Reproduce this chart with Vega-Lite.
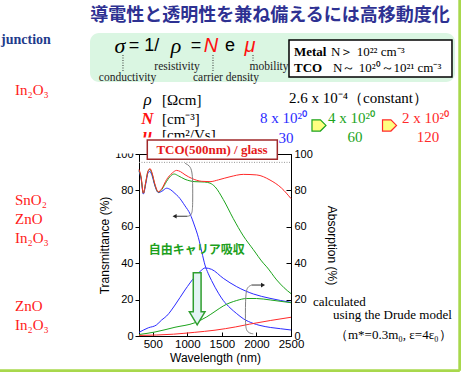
{
"$schema":"https://vega.github.io/schema/vega-lite/v6.json",
"width":152,"height":182,
"autosize":{"type":"none"},
"padding":{"left":139,"top":154,"right":170,"bottom":36},
"background":"white",
"config":{"view":{"stroke":"black","strokeWidth":1},
 "axis":{"domainColor":"black","tickColor":"black","labelColor":"black","titleColor":"black","labelFont":"Liberation Sans","titleFont":"Liberation Sans","labelFontSize":11,"titleFontSize":12,"titleFontWeight":"normal","grid":false}},
"datasets":{
"trans":[
{"x":300,"y":90.5,"N":"8e20"},{"x":330,"y":86.5,"N":"8e20"},{"x":363,"y":78,"N":"8e20"},{"x":400,"y":84,"N":"8e20"},{"x":430,"y":89.5,"N":"8e20"},{"x":459,"y":90.4,"N":"8e20"},{"x":490,"y":88,"N":"8e20"},{"x":530,"y":82.5,"N":"8e20"},{"x":580,"y":78.8,"N":"8e20"},{"x":630,"y":79.5,"N":"8e20"},{"x":700,"y":81.2,"N":"8e20"},{"x":760,"y":80.3,"N":"8e20"},{"x":821,"y":78.3,"N":"8e20"},{"x":869,"y":76.6,"N":"8e20"},{"x":966,"y":71.5,"N":"8e20"},{"x":1040,"y":67,"N":"8e20"},{"x":1100,"y":61,"N":"8e20"},{"x":1160,"y":54,"N":"8e20"},{"x":1210,"y":46,"N":"8e20"},{"x":1255,"y":39,"N":"8e20"},{"x":1300,"y":34.5,"N":"8e20"},{"x":1350,"y":30.5,"N":"8e20"},{"x":1450,"y":23.5,"N":"8e20"},{"x":1520,"y":19.5,"N":"8e20"},{"x":1617,"y":15.5,"N":"8e20"},{"x":1714,"y":12.3,"N":"8e20"},{"x":1810,"y":9.5,"N":"8e20"},{"x":1954,"y":6.9,"N":"8e20"},{"x":2051,"y":5.8,"N":"8e20"},{"x":2200,"y":4.7,"N":"8e20"},{"x":2350,"y":4,"N":"8e20"},{"x":2500,"y":3.3,"N":"8e20"},
{"x":300,"y":91,"N":"4e20"},{"x":330,"y":87,"N":"4e20"},{"x":363,"y":78.5,"N":"4e20"},{"x":400,"y":85,"N":"4e20"},{"x":430,"y":90.5,"N":"4e20"},{"x":459,"y":91.5,"N":"4e20"},{"x":490,"y":89,"N":"4e20"},{"x":530,"y":83,"N":"4e20"},{"x":580,"y":79,"N":"4e20"},{"x":630,"y":80.5,"N":"4e20"},{"x":700,"y":85,"N":"4e20"},{"x":760,"y":88,"N":"4e20"},{"x":811,"y":89,"N":"4e20"},{"x":870,"y":88,"N":"4e20"},{"x":966,"y":86.1,"N":"4e20"},{"x":1110,"y":84.8,"N":"4e20"},{"x":1250,"y":84.6,"N":"4e20"},{"x":1328,"y":84,"N":"4e20"},{"x":1400,"y":82,"N":"4e20"},{"x":1520,"y":75,"N":"4e20"},{"x":1665,"y":64.5,"N":"4e20"},{"x":1810,"y":55,"N":"4e20"},{"x":1954,"y":47.5,"N":"4e20"},{"x":2100,"y":40,"N":"4e20"},{"x":2148,"y":38,"N":"4e20"},{"x":2293,"y":30.8,"N":"4e20"},{"x":2400,"y":26.5,"N":"4e20"},{"x":2500,"y":23.3,"N":"4e20"},
{"x":300,"y":91.5,"N":"2e20"},{"x":330,"y":87.5,"N":"2e20"},{"x":363,"y":78.5,"N":"2e20"},{"x":400,"y":85,"N":"2e20"},{"x":430,"y":90.5,"N":"2e20"},{"x":459,"y":92,"N":"2e20"},{"x":490,"y":89.5,"N":"2e20"},{"x":530,"y":83.5,"N":"2e20"},{"x":580,"y":79.2,"N":"2e20"},{"x":630,"y":81,"N":"2e20"},{"x":700,"y":86,"N":"2e20"},{"x":780,"y":89.5,"N":"2e20"},{"x":845,"y":91,"N":"2e20"},{"x":900,"y":90.3,"N":"2e20"},{"x":966,"y":88.6,"N":"2e20"},{"x":1063,"y":86.6,"N":"2e20"},{"x":1207,"y":85,"N":"2e20"},{"x":1328,"y":84.8,"N":"2e20"},{"x":1450,"y":85.8,"N":"2e20"},{"x":1617,"y":87.5,"N":"2e20"},{"x":1810,"y":88.8,"N":"2e20"},{"x":2004,"y":88.5,"N":"2e20"},{"x":2196,"y":85.7,"N":"2e20"},{"x":2365,"y":81.2,"N":"2e20"},{"x":2500,"y":75.5,"N":"2e20"}
],
"abs":[
{"x":300,"y":2,"N":"8e20"},{"x":435,"y":4.5,"N":"8e20"},{"x":550,"y":6,"N":"8e20"},{"x":628,"y":8.8,"N":"8e20"},{"x":700,"y":11,"N":"8e20"},{"x":821,"y":17,"N":"8e20"},{"x":966,"y":25.3,"N":"8e20"},{"x":1110,"y":32.6,"N":"8e20"},{"x":1200,"y":36,"N":"8e20"},{"x":1255,"y":37.4,"N":"8e20"},{"x":1352,"y":36.6,"N":"8e20"},{"x":1520,"y":31.7,"N":"8e20"},{"x":1714,"y":27.1,"N":"8e20"},{"x":1954,"y":23.1,"N":"8e20"},{"x":2196,"y":20.7,"N":"8e20"},{"x":2500,"y":18.5,"N":"8e20"},
{"x":300,"y":0.8,"N":"4e20"},{"x":532,"y":2.2,"N":"4e20"},{"x":821,"y":4.8,"N":"4e20"},{"x":1110,"y":7.3,"N":"4e20"},{"x":1280,"y":10.5,"N":"4e20"},{"x":1400,"y":13.5,"N":"4e20"},{"x":1520,"y":16.5,"N":"4e20"},{"x":1714,"y":19.5,"N":"4e20"},{"x":1859,"y":20.6,"N":"4e20"},{"x":2000,"y":20.6,"N":"4e20"},{"x":2200,"y":19.8,"N":"4e20"},{"x":2500,"y":18.3,"N":"4e20"},
{"x":300,"y":0.3,"N":"2e20"},{"x":800,"y":1,"N":"2e20"},{"x":1100,"y":2,"N":"2e20"},{"x":1400,"y":3.2,"N":"2e20"},{"x":1700,"y":5,"N":"2e20"},{"x":1900,"y":6.5,"N":"2e20"},{"x":2200,"y":8.5,"N":"2e20"},{"x":2500,"y":10.3,"N":"2e20"}
]
},
"encoding":{
 "x":{"field":"x","type":"quantitative","scale":{"domain":[300,2500],"nice":false,"zero":false},"axis":{"orient":"bottom","values":[500,1000,1500,2000,2500],"format":"d","title":"Wavelength (nm)","tickSize":-4,"labelPadding":6,"titlePadding":3,"labelFlush":false,"labelFontSize":11.5}},
 "y":{"field":"y","type":"quantitative","scale":{"domain":[0,100],"nice":false,"zero":false},"axis":null}
},
"layer":[
{"data":{"values":[{"x":4943,"x2":4943,"y":185,"y2":-19.1},{"x":-1712,"x2":4943,"y":-19.1,"y2":-19.1}]},
 "mark":{"type":"rule","color":"#A8D84C","strokeWidth":3},
 "encoding":{"x2":{"field":"x2"},"y2":{"field":"y2"}}},
{"data":{"values":[{"x":-409,"x2":4874,"y":166.5,"y2":139.6}]},
 "mark":{"type":"rect","fill":"#DAF6E2","cornerRadius":9},
 "encoding":{"x2":{"field":"x2"},"y2":{"field":"y2"}}},
{"data":{"values":[{"x":2196,"y":175.8,"t":"導電性と透明性を兼ね備えるには高移動度化"}]},
 "mark":{"type":"text","font":"Noto Sans CJK JP","fontWeight":"bold","fontSize":18,"color":"#2E3192"},
 "encoding":{"text":{"field":"t"}}},
{"data":{"values":[{"x":-1697,"y":162.7,"t":"junction"}]},
 "mark":{"type":"text","font":"Liberation Serif","fontWeight":"bold","fontSize":14,"color":"#1F3C8C","align":"left"},
 "encoding":{"text":{"field":"t"}}},
{"data":{"values":[{"x":25,"y":159.4,"t":"σ"},{"x":836,"y":159.4,"t":"ρ"}]},
 "mark":{"type":"text","font":"Liberation Serif","fontStyle":"italic","fontSize":22,"color":"black"},
 "encoding":{"text":{"field":"t"}}},
{"data":{"values":[{"x":372,"y":159.4,"t":"= 1/"},{"x":1125,"y":159.4,"t":"="},{"x":1617,"y":159.4,"t":"e"}]},
 "mark":{"type":"text","font":"Liberation Sans","fontSize":18,"color":"black"},
 "encoding":{"text":{"field":"t"}}},
{"data":{"values":[{"x":1342,"y":159.4,"t":"N"},{"x":1907,"y":159.4,"t":"μ"}]},
 "mark":{"type":"text","font":"Liberation Sans","fontStyle":"italic","fontSize":20,"color":"#FF1010"},
 "encoding":{"text":{"field":"t"}}},
{"data":{"values":[{"x":68,"x2":68,"y":154.4,"y2":145.1},{"x":1371,"x2":1371,"y":154.4,"y2":145.1},{"x":1950,"x2":1950,"y":154.4,"y2":150.6}]},
 "mark":{"type":"rule","color":"#333","strokeDash":[1,1.5],"strokeWidth":1},
 "encoding":{"x2":{"field":"x2"},"y2":{"field":"y2"}}},
{"data":{"values":[{"x":134,"y":141.8,"t":"conductivity"},{"x":850,"y":147.8,"t":"resistivity"},{"x":1559,"y":141.8,"t":"carrier density"},{"x":2182,"y":147.8,"t":"mobility"}]},
 "mark":{"type":"text","font":"Liberation Serif","fontSize":11.5,"color":"#222"},
 "encoding":{"text":{"field":"t"}}},
{"data":{"values":[{"x":2471,"x2":4830,"y":162.7,"y2":142.3}]},
 "mark":{"type":"rect","fill":"white","stroke":"black","strokeWidth":1.5},
 "encoding":{"x2":{"field":"x2"},"y2":{"field":"y2"}}},
{"data":{"values":[{"x":2543,"y":156.1,"t":"Metal"},{"x":2543,"y":147.3,"t":"TCO"}]},
 "mark":{"type":"text","font":"Liberation Serif","fontWeight":"bold","fontSize":13,"color":"black","align":"left"},
 "encoding":{"text":{"field":"t"}}},
{"data":{"values":[{"x":3080,"y":156.1,"t":"N＞ 10²² cm⁻³"},{"x":3108,"y":147.3,"t":"N～ 10²⁰～10²¹ cm⁻³"}]},
 "mark":{"type":"text","font":"Liberation Serif","fontSize":13,"color":"black","align":"left"},
 "encoding":{"text":{"field":"t"}}},
{"data":{"values":[{"x":-1495,"y":135.2,"t":"In₂O₃"},{"x":-1495,"y":74.7,"t":"SnO₂"},{"x":-1495,"y":64.3,"t":"ZnO"},{"x":-1495,"y":53.9,"t":"In₂O₃"},{"x":-1495,"y":16.5,"t":"ZnO"},{"x":-1495,"y":6.0,"t":"In₂O₃"}]},
 "mark":{"type":"text","font":"Liberation Serif","fontSize":15,"color":"#FF1A1A","align":"left"},
 "encoding":{"text":{"field":"t"}}},
{"data":{"values":[{"x":423,"y":129.7,"t":"ρ"}]},
 "mark":{"type":"text","font":"Liberation Serif","fontStyle":"italic","fontSize":17,"color":"black"},
 "encoding":{"text":{"field":"t"}}},
{"data":{"values":[{"x":423,"y":119.2,"t":"N"},{"x":423,"y":110.4,"t":"μ"}]},
 "mark":{"type":"text","font":"Liberation Serif","fontStyle":"italic","fontWeight":"bold","fontSize":17,"color":"#FF1010"},
 "encoding":{"text":{"field":"t"}}},
{"data":{"values":[{"x":633,"y":129.7,"t":"[Ωcm]"},{"x":633,"y":119.2,"t":"[cm⁻³]"},{"x":633,"y":110.4,"t":"[cm²/Vs]"}]},
 "mark":{"type":"text","font":"Liberation Serif","fontSize":15,"color":"black","align":"left"},
 "encoding":{"text":{"field":"t"}}},
{"data":{"values":[{"x":2471,"y":130.8,"t":"2.6 x 10⁻⁴（constant）"}]},
 "mark":{"type":"text","font":"Liberation Serif","fontSize":15,"color":"black","align":"left"},
 "encoding":{"text":{"field":"t"}}},
{"data":{"values":[{"x":2051,"y":119.8,"t":"8 x 10²⁰","N":"8e20"},{"x":3036,"y":119.8,"t":"4 x 10²⁰","N":"4e20"},{"x":4107,"y":119.8,"t":"2 x 10²⁰","N":"2e20"}]},
 "mark":{"type":"text","font":"Liberation Serif","fontSize":15,"align":"left"},
 "encoding":{"text":{"field":"t"},"color":{"field":"N","type":"nominal","scale":{"domain":["8e20","4e20","2e20"],"range":["#2B2BFF","#1CA41C","#FF2A2A"]},"legend":null}}},
{"data":{"values":[{"x":2428,"y":108.8,"t":"30","N":"8e20"},{"x":3426,"y":109.4,"t":"60","N":"4e20"},{"x":4483,"y":109.4,"t":"120","N":"2e20"}]},
 "mark":{"type":"text","font":"Liberation Serif","fontSize":15},
 "encoding":{"text":{"field":"t"},"color":{"field":"N","type":"nominal","scale":{"domain":["8e20","4e20","2e20"],"range":["#2B2BFF","#1CA41C","#FF2A2A"]},"legend":null}}},
{"data":{"values":[{"x":2905,"y":115.7,"N":"4e20"},{"x":3926,"y":115.7,"N":"2e20"}]},
 "mark":{"type":"point","shape":"M -1 -0.8 L 0.2 -0.8 L 1 0 L 0.2 0.8 L -1 0.8 Z","filled":true,"fill":"#FFFF80","size":196,"strokeWidth":1.2,"opacity":1},
 "encoding":{"stroke":{"field":"N","type":"nominal","scale":{"domain":["8e20","4e20","2e20"],"range":["#2B2BFF","#1CA41C","#FF2A2A"]},"legend":null}}},
{"data":{"values":[{"x":-337,"x2":2312,"y":109.1,"y2":100.3}]},
 "mark":{"type":"rect","fill":"white"},
 "encoding":{"x2":{"field":"x2"},"y2":{"field":"y2"}}},
{"data":{"values":[{"x":300,"x2":2500,"y":95.4,"y2":95.4}]},
 "mark":{"type":"rule","color":"#999","strokeDash":[1,1.5],"strokeWidth":1},
 "encoding":{"x2":{"field":"x2"},"y2":{"field":"y2"}}},
{"data":{"name":"trans"},
 "mark":{"type":"line","strokeWidth":1,"interpolate":"monotone"},
 "encoding":{
  "y":{"field":"y","type":"quantitative","scale":{"domain":[0,100],"nice":false,"zero":false},"axis":{"orient":"left","values":[0,20,40,60,80,100],"title":"Transmittance (%)","tickSize":4,"labelPadding":2,"titlePadding":3}},
  "color":{"field":"N","type":"nominal","scale":{"domain":["8e20","4e20","2e20"],"range":["#2B2BFF","#1CA41C","#FF2A2A"]},"legend":null}}},
{"data":{"name":"abs"},
 "mark":{"type":"line","strokeWidth":1,"interpolate":"monotone"},
 "encoding":{
  "y":{"field":"y","type":"quantitative","scale":{"domain":[0,100],"nice":false,"zero":false},"axis":{"orient":"right","values":[0,20,40,60,80,100],"title":"Absorption (%)","tickSize":-5,"labelPadding":8,"titlePadding":12}},
  "color":{"field":"N","type":"nominal","scale":{"domain":["8e20","4e20","2e20"],"range":["#2B2BFF","#1CA41C","#FF2A2A"]},"legend":null}}},
{"data":{"values":[
 {"x":966,"y":94.9,"b":"u","i":1},{"x":1035,"y":93.6,"b":"u","i":2},{"x":1068,"y":90.5,"b":"u","i":3},{"x":1078,"y":85,"b":"u","i":4},{"x":1078,"y":72,"b":"u","i":5},{"x":1070,"y":67.5,"b":"u","i":6},{"x":1040,"y":66,"b":"u","i":7},{"x":1000,"y":65.8,"b":"u","i":8},
 {"x":1931,"y":28,"b":"l","i":1},{"x":1870,"y":27,"b":"l","i":2},{"x":1842,"y":23.5,"b":"l","i":3},{"x":1838,"y":8,"b":"l","i":4},{"x":1850,"y":3,"b":"l","i":5},{"x":1900,"y":1.5,"b":"l","i":6},{"x":1954,"y":1.2,"b":"l","i":7}]},
 "mark":{"type":"line","color":"#808080","strokeWidth":1,"interpolate":"basis"},
 "encoding":{"detail":{"field":"b"},"order":{"field":"i","type":"quantitative"}}},
{"data":{"values":[{"x":1000,"x2":830,"y":65.8,"y2":65.8},{"x":1931,"x2":2080,"y":28,"y2":28}]},
 "mark":{"type":"rule","color":"#333","strokeWidth":1},
 "encoding":{"x2":{"field":"x2"},"y2":{"field":"y2"}}},
{"data":{"values":[{"x":815,"y":65.8}]},
 "mark":{"type":"point","shape":"triangle-left","filled":true,"color":"#222","size":22,"opacity":1}},
{"data":{"values":[{"x":2095,"y":28}]},
 "mark":{"type":"point","shape":"triangle-right","filled":true,"color":"#222","size":22,"opacity":1}},
{"data":{"values":[{"x":1142,"y":20.4}]},
 "mark":{"type":"point","shape":"M -0.15 -1 L 0.15 -1 L 0.15 0.5 L 0.3 0.5 L 0 1 L -0.3 0.5 L -0.15 0.5 Z","filled":true,"fill":"#E3F4F4","stroke":"#2E9E2E","strokeWidth":1.5,"size":2704,"opacity":1}},
{"data":{"values":[{"x":1135,"y":47.0,"t":"自由キャリア吸収"}]},
 "mark":{"type":"text","font":"Noto Sans CJK JP","fontWeight":"bold","fontSize":12,"color":"#1DA01D"},
 "encoding":{"text":{"field":"t"}}},
{"data":{"values":[{"x":420,"x2":2302,"y":107.7,"y2":97.1}]},
 "mark":{"type":"rect","fill":"white","stroke":"#A0282A","strokeWidth":1.5},
 "encoding":{"x2":{"field":"x2"},"y2":{"field":"y2"}}},
{"data":{"values":[{"x":1357,"y":102.2,"t":"TCO(500nm) / glass"}]},
 "mark":{"type":"text","font":"Liberation Serif","fontWeight":"bold","fontSize":13,"color":"#E51A1A"},
 "encoding":{"text":{"field":"t"}}},
{"data":{"values":[{"x":2818,"y":18.6,"t":"calculated"},{"x":3108,"y":11.3,"t":"using the Drude model"},{"x":3137,"y":0.55,"t":"（m*=0.3m₀, ε=4ε₀）"}]},
 "mark":{"type":"text","font":"Liberation Serif","fontSize":13,"color":"black","align":"left"},
 "encoding":{"text":{"field":"t"}}}
],
"resolve":{"axis":{"y":"independent"}}
}
